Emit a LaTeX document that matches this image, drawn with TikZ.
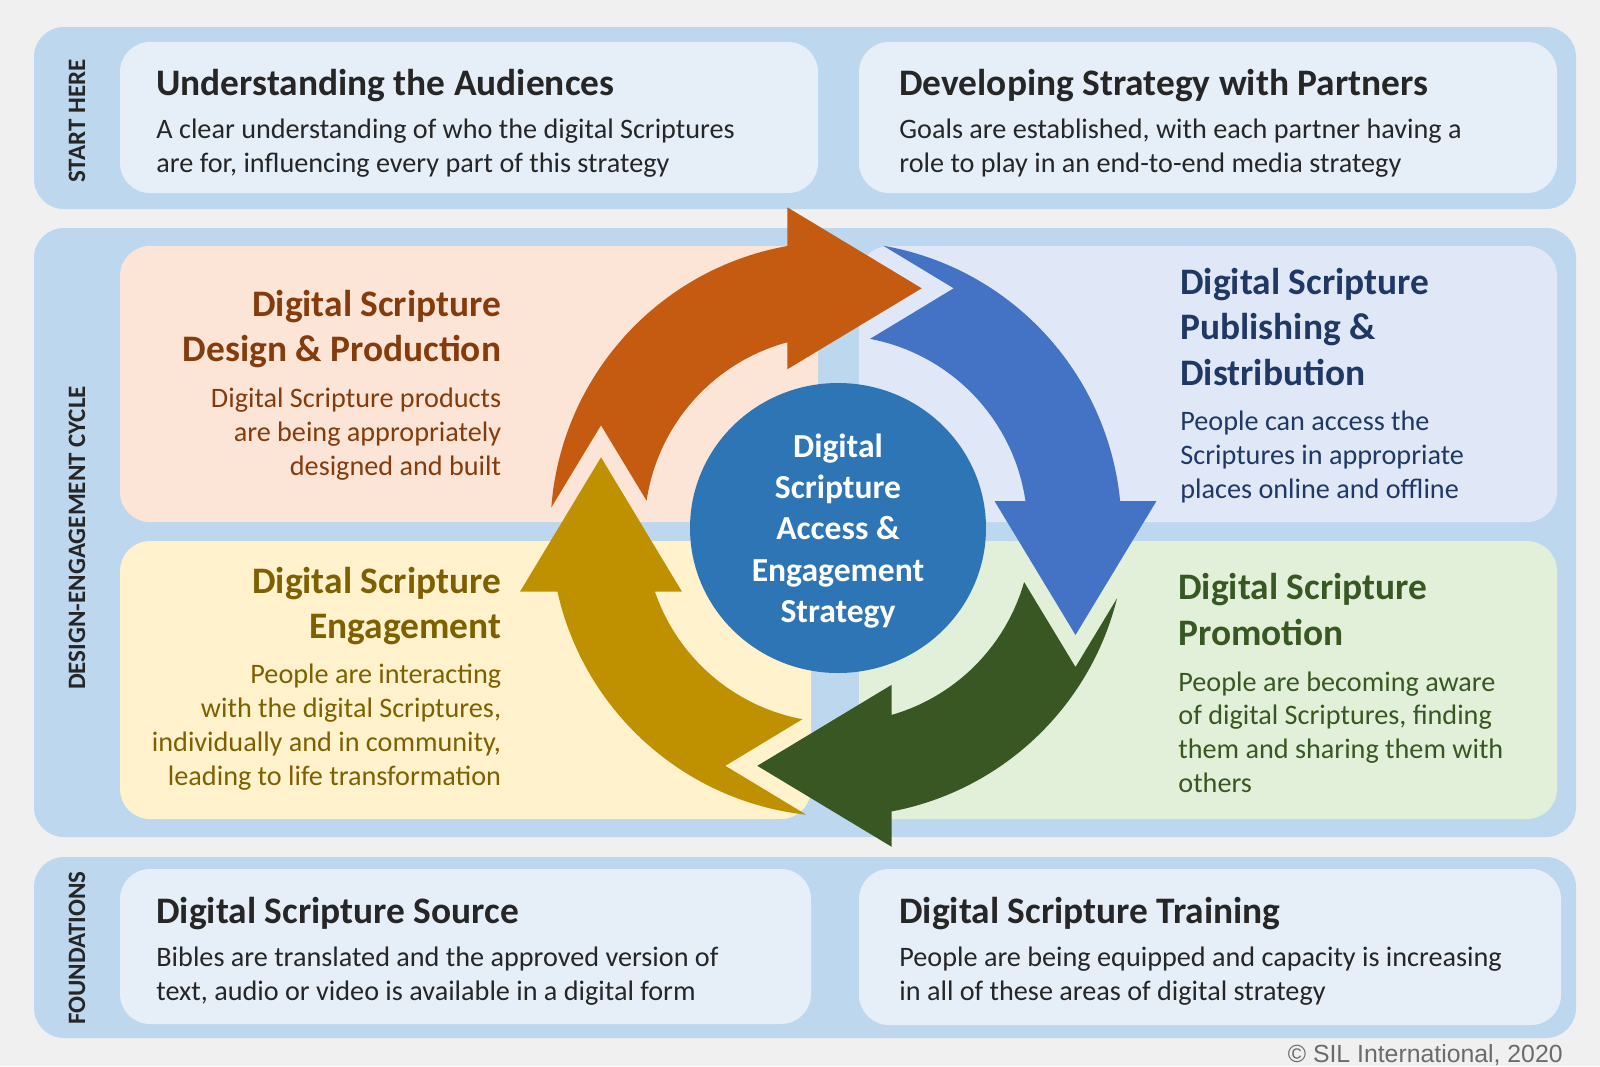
\documentclass[tikz,border=0pt]{standalone}
\usepackage{fontspec}
\setmainfont{Carlito}
\newfontfamily\notefont{Liberation Sans}
\usetikzlibrary{shapes.geometric}

\definecolor{paper}{HTML}{F0F0F0}
\definecolor{bandblue}{HTML}{BDD7EE}
\definecolor{cardblue}{HTML}{E6EEF8}
\definecolor{peach}{HTML}{FCE5D7}
\definecolor{lavender}{HTML}{E0E7F7}
\definecolor{cream}{HTML}{FFF2CC}
\definecolor{mint}{HTML}{E2F0D9}
\definecolor{hubblue}{HTML}{2E75B6}
\definecolor{rust}{HTML}{C55A11}
\definecolor{royal}{HTML}{4472C4}
\definecolor{forest}{HTML}{385723}
\definecolor{gold}{HTML}{BF9000}
\definecolor{ink}{HTML}{262626}
\definecolor{rustink}{HTML}{843C0C}
\definecolor{navyink}{HTML}{1F3864}
\definecolor{goldink}{HTML}{7F6000}
\definecolor{forestink}{HTML}{385723}

\begin{document}
\begin{tikzpicture}[x=0.5pt,y=-0.5pt,
    band/.style={fill=bandblue,rounded corners=15pt},
    card/.style={rounded corners=15pt},
    ttl/.style={inner sep=0pt,font=\fontsize{18.7}{22.6}\selectfont\bfseries},
    txt/.style={inner sep=0pt,font=\fontsize{14.1}{16.9}\selectfont},
    side/.style={inner sep=0pt,rotate=90,text=ink,font=\fontsize{12.5}{15}\selectfont\bfseries},
    hub/.style={ellipse,fill=hubblue,inner sep=0pt,minimum width=148pt,minimum height=145pt},
    hubtext/.style={inner sep=0pt,text=white,align=center,font=\fontsize{16.8}{20.6}\selectfont\bfseries}]
    \fill[paper] (0,0) rectangle (1600,1066);
    \fill[band] (34,27) rectangle (1576,209);
    \fill[band] (34,228) rectangle (1576,837);
    \fill[band] (34,857) rectangle (1576,1038);

    \fill[card,cardblue] (120,42) rectangle (818,193);
    \fill[card,cardblue] (859,42) rectangle (1557,193);
    \fill[card,peach] (120,246) rectangle (818,522);
    \fill[card,lavender] (859,246) rectangle (1557,522);
    \fill[card,cream] (120,541) rectangle (811,819);
    \fill[card,mint] (859,541) rectangle (1557,819);
    \fill[card,cardblue] (120,869) rectangle (811,1024);
    \fill[card,cardblue] (859,869) rectangle (1561,1025);

    \node[side] (start) at (77,121) {START HERE};
    \node[side] (cycle) at (77,538) {DESIGN-ENGAGEMENT CYCLE};
    \node[side] (found) at (77,948) {FOUNDATIONS};

    \node[ttl,text=ink,anchor=base west] (aud) at (156,95) {Understanding the Audiences};
    \node[txt,text=ink,anchor=base west,align=left] (audtxt) at (156,172)
        {A clear understanding of who the digital Scriptures\\are for, influencing every part of this strategy};
    \node[ttl,text=ink,anchor=base west] (part) at (899,95) {Developing Strategy with Partners};
    \node[txt,text=ink,anchor=base west,align=left] (parttxt) at (899,172)
        {Goals are established, with each partner having a\\role to play in an end-to-end media strategy};

    \node[ttl,text=rustink,anchor=base east,align=right] (design) at (501.5,361.5)
        {Digital Scripture\\Design \& Production};
    \node[txt,text=rustink,anchor=base east,align=right] (designtxt) at (501.5,475.5)
        {Digital Scripture products\\are being appropriately\\designed and built};
    \node[ttl,text=navyink,anchor=base west,align=left] (publish) at (1180,385)
        {Digital Scripture\\Publishing \&\\Distribution};
    \node[txt,text=navyink,anchor=base west,align=left] (publishtxt) at (1180,498)
        {People can access the\\Scriptures in appropriate\\places online and offline};
    \node[ttl,text=goldink,anchor=base east,align=right] (engage) at (501.5,638.5)
        {Digital Scripture\\Engagement};
    \node[txt,text=goldink,anchor=base east,align=right] (engagetxt) at (501.5,785)
        {People are interacting\\with the digital Scriptures,\\individually and in community,\\leading to life transformation};
    \node[ttl,text=forestink,anchor=base west,align=left] (promo) at (1178,645)
        {Digital Scripture\\Promotion};
    \node[txt,text=forestink,anchor=base west,align=left] (promotxt) at (1178,792.5)
        {People are becoming aware\\of digital Scriptures, finding\\them and sharing them with\\others};

    \node[ttl,text=ink,anchor=base west] (source) at (156,923) {Digital Scripture Source};
    \node[txt,text=ink,anchor=base west,align=left] (sourcetxt) at (156,1000.5)
        {Bibles are translated and the approved version of\\text, audio or video is available in a digital form};
    \node[ttl,text=ink,anchor=base west] (train) at (899,923) {Digital Scripture Training};
    \node[txt,text=ink,anchor=base west,align=left] (traintxt) at (899,1000.5)
        {People are being equipped and capacity is increasing\\in all of these areas of digital strategy};

    \begin{scope}[shift={(838,529)}]
        \fill[rust] (184.29:287.5) arc[start angle=184.29,end angle=259.84,radius=287.5]
            -- (-50.7,-321.7) -- (83.7,-240.7) -- (-50.7,-159.7)
            -- (254.81:193.5) arc[start angle=254.81,end angle=188.41,radius=193.5]
            -- (-237,-103.7) -- cycle;
        \fill[forest] (13.95:287.5) arc[start angle=13.95,end angle=79.23,radius=287.5]
            -- (53.7,317.8) -- (-80.7,236.8) -- (53.7,155.8)
            -- (73.89:193.5) arc[start angle=73.89,end angle=15.90,radius=193.5]
            -- (237.5,138) -- cycle;
        \fill[gold] (96.33:287.5) arc[start angle=96.33,end angle=167.40,radius=287.5]
            -- (-318,62.7) -- (-237,-71.7) -- (-156,62.7)
            -- (161.10:193.5) arc[start angle=161.10,end angle=100.60,radius=193.5]
            -- (-112.7,236.8) -- cycle;
    \end{scope}
    \begin{scope}[shift={(834,529)}]
        \fill[royal] (279.88:287.5) arc[start angle=279.88,end angle=354.41,radius=287.5]
            -- (322.5,-28) -- (241.5,106) -- (160.5,-28)
            -- (351.68:193.5) arc[start angle=351.68,end angle=280.72,radius=193.5]
            -- (119.7,-240.7) -- cycle;
    \end{scope}

    \node[hub] (core) at (838,528) {};
    \node[hubtext] (corename) at ([yshift=-1.5pt]core.center)
        {Digital\\Scripture\\Access \&\\Engagement\\Strategy};

    \node[inner sep=0pt,anchor=base east,text=black!58,font=\notefont\fontsize{12.4}{15}\selectfont] (note)
        at (1563,1062) {\textcopyright{} SIL International, 2020};
\end{tikzpicture}
\end{document}
